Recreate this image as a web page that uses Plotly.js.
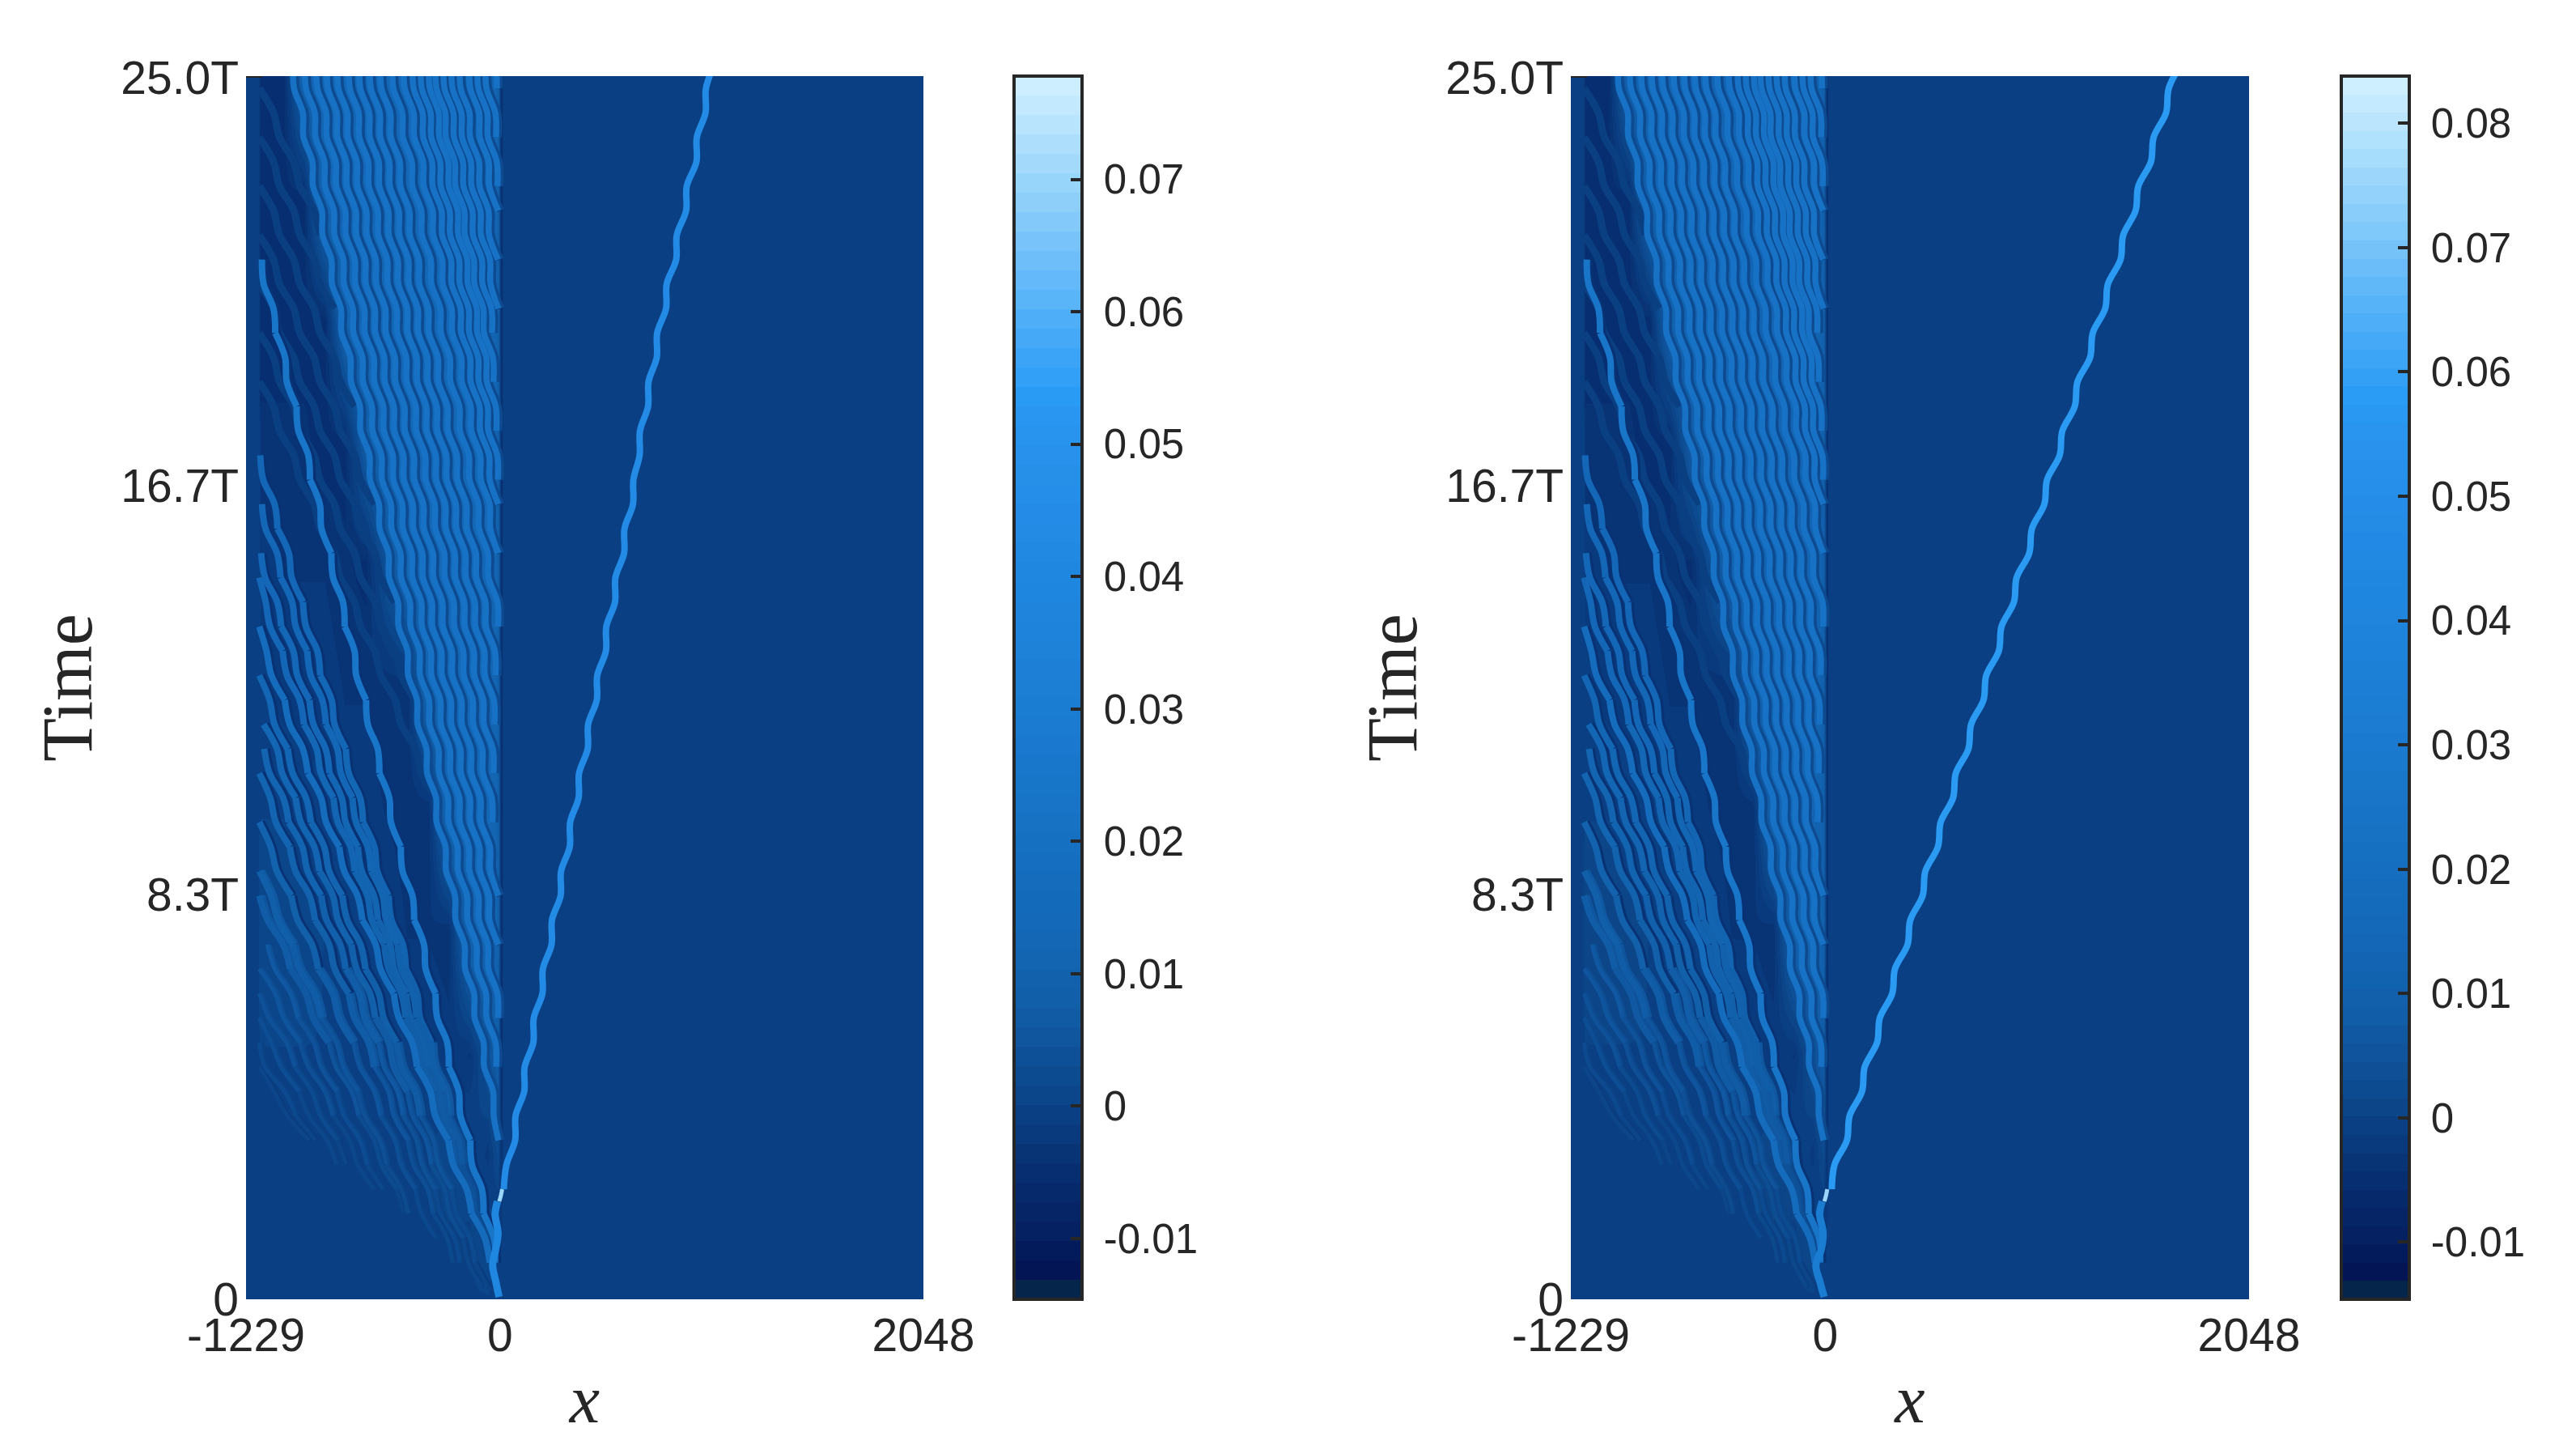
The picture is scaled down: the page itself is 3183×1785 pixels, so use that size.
<!DOCTYPE html>
<html><head><meta charset="utf-8">
<script src="https://cdn.plot.ly/plotly-3.0.1.min.js"></script>
<style>html,body{margin:0;padding:0;background:#fff}#g{width:3183px;height:1785px}</style></head>
<body><div id="g"></div>
<script>
const tTop=[25.25,24.75,24.25,23.75,23.25,22.75,22.25,21.75,21.25,20.75,20.25,19.75,19.25,18.75,18.25,17.75,17.25,16.75,16.25,15.75,15.25,14.75,14.25,13.75,13.25,12.75,12.25,11.75,11.25,10.75,10.25,9.75,9.25,8.75,8.25,7.75,7.25,6.75,6.25,5.75,5.25,4.75,4.25,3.75,3.25,2.75,2.25,1.75,1.25,0.75,0.25];
const xTicks=[-1229,0,2048];
const xTickText=['-1229','0','2048'];
const yTicks=[0,8.27,16.63,24.97];
const yTickText=['0','8.3T','16.7T','25.0T'];
const cbTicksA=[-0.01,0,0.01,0.02,0.03,0.04,0.05,0.06,0.07];
const cbTextA=['-0.01','0','0.01','0.02','0.03','0.04','0.05','0.06','0.07'];
const cbTicksB=[-0.01,0,0.01,0.02,0.03,0.04,0.05,0.06,0.07,0.08];
const cbTextB=['-0.01','0','0.01','0.02','0.03','0.04','0.05','0.06','0.07','0.08'];
// background field (coarse estimate)
const gridX=[-1229,-1170,-1160,-1050,-950,-850,-750,-650,-550,-450,-350,-250,-150,-60,-10,5,20,2048];
const gridT=[0,1.5,3,5,7.5,10,12.5,15,17.5,20,22.5,25];
const gridZ=[
[0,0,0,0,0,0,0,0,0,0,0,0,0,0,0,0,0,0],
[0,0,0,0,0,0,0,0,0,0,0,0,0,.001,-.002,-.002,0,0],
[0,0,0,0,0,0,0,0,0,0,0,.001,.001,-.002,.002,-.004,0,0],
[0,0,0,0,0,0,0,0,0,0,-.001,-.002,-.003,.004,.008,-.005,0,0],
[0,0,.001,.001,.001,0,0,-.001,-.001,-.003,-.003,-.004,.011,.012,.01,-.005,0,0],
[0,0,0,0,-.001,-.001,-.002,-.002,-.003,-.004,-.004,.012,.012,.012,.01,-.005,0,0],
[0,0,-.001,-.002,-.002,-.002,-.003,-.003,-.004,-.004,.012,.012,.012,.012,.01,-.005,0,0],
[0,0,-.002,-.003,-.003,-.003,-.004,-.005,.004,.012,.012,.012,.012,.012,.01,-.005,0,0],
[0,0,-.004,-.004,-.004,-.005,-.005,.008,.012,.012,.012,.012,.012,.012,.01,-.005,0,0],
[0,0,-.005,-.005,-.005,-.005,.011,.012,.012,.012,.012,.012,.012,.012,.01,-.005,0,0],
[0,0,-.005,-.005,-.005,.012,.012,.012,.012,.012,.012,.012,.012,.012,.01,-.005,0,0],
[0,0,-.005,-.005,.011,.012,.012,.012,.012,.012,.012,.012,.012,.012,.01,-.005,0,0]];
// bright ridge of each panel, above the collision point
const mainA=[1038,996,994,952,950,903,900,855,852,806,803,760,758,718,716,677,675,645,643,602,600,558,556,514,512,470,468,426,424,382,380,339,337,295,293,251,249,207,205,163,161,119,117,75,73,31,18];
const mainB=[1721,1660,1647,1587,1574,1513,1500,1440,1427,1366,1353,1293,1280,1219,1206,1146,1133,1072,1059,999,986,925,912,852,839,778,765,705,692,631,618,558,545,484,471,411,398,337,324,264,251,191,178,118,105,45,32];
// strand below the collision point
const rootT=[2.0,1.75,1.35,1.0,0.7,0.35,0.05];
const rootA=[-12,-24,-10,-22,-36,-20,-5];
const rootB=[-14,-27,-10,-20,-45,-25,-5];
const rootZ=[.04,.03];
const sparkX=[-4,4,10];
const sparkT=[2.0,2.12,2.25];
// ridges of the band left of x=0; each starts at the top of the plot
const band=[
[-1000,-997,-954,-951,-908,-905,-862,-859,-816,-813,-770,-767,-724,-721,-678,-675,-632,-629,-586,-583,-540,-537,-494,-491,-448,-445,-402,-399,-356,-353,-310,-307,-264,-261,-218,-215,-172,-169,-126,-123,-80,-77,-34,-31,-8],
[-942,-939,-896,-893,-850,-847,-804,-801,-758,-755,-712,-709,-666,-663,-620,-617,-574,-571,-528,-525,-482,-479,-436,-433,-390,-387,-344,-341,-298,-295,-252,-249,-206,-203,-160,-157,-114,-111,-68,-65,-22,-19],
[-887,-884,-841,-838,-795,-792,-749,-746,-703,-700,-657,-654,-611,-608,-565,-562,-519,-516,-473,-470,-427,-424,-381,-378,-335,-332,-289,-286,-243,-240,-197,-194,-151,-148,-105,-102,-59,-56,-13,-10],
[-836,-833,-790,-787,-744,-741,-698,-695,-652,-649,-606,-603,-560,-557,-514,-511,-468,-465,-422,-419,-376,-373,-330,-327,-284,-281,-238,-235,-192,-189,-146,-143,-100,-97,-54,-51,-8],
[-785,-782,-739,-736,-693,-690,-647,-644,-601,-598,-555,-552,-509,-506,-463,-460,-417,-414,-371,-368,-325,-322,-279,-276,-233,-230,-187,-184,-141,-138,-95,-92,-49,-46,-8],
[-730,-727,-684,-681,-638,-635,-592,-589,-546,-543,-500,-497,-454,-451,-408,-405,-362,-359,-316,-313,-270,-267,-224,-221,-178,-175,-132,-129,-86,-83,-40,-37],
[-679,-676,-633,-630,-587,-584,-541,-538,-495,-492,-449,-446,-403,-400,-357,-354,-311,-308,-265,-262,-219,-216,-173,-170,-127,-124,-81,-78,-35,-32],
[-628,-625,-582,-579,-536,-533,-490,-487,-444,-441,-398,-395,-352,-349,-306,-303,-260,-257,-214,-211,-168,-165,-122,-119,-76,-73,-30,-27],
[-577,-574,-531,-528,-485,-482,-439,-436,-393,-390,-347,-344,-301,-298,-255,-252,-209,-206,-163,-160,-117,-114,-71,-68,-25,-22],
[-519,-516,-473,-470,-427,-424,-381,-378,-335,-332,-289,-286,-243,-240,-197,-194,-151,-148,-105,-102,-59,-56,-13,-10],
[-464,-461,-418,-415,-372,-369,-326,-323,-280,-277,-234,-231,-188,-185,-142,-139,-96,-93,-50,-47,-8],
[-421,-418,-375,-372,-329,-326,-283,-280,-237,-234,-191,-188,-145,-142,-99,-96,-53,-50,-8],
[-382,-379,-336,-333,-290,-287,-244,-241,-198,-195,-152,-149,-106,-103,-60,-57,-14,-11],
[-343,-340,-297,-294,-251,-248,-205,-202,-159,-156,-113,-110,-67,-64,-21,-18],
[-311,-308,-265,-262,-219,-216,-173,-170,-127,-124,-81,-78,-35,-32],
[-272,-269,-226,-223,-180,-177,-134,-131,-88,-85,-42,-39],
[-233,-230,-187,-184,-141,-138,-95,-92,-49,-46,-8],
[-194,-191,-148,-145,-102,-99,-56,-53,-10],
[-147,-144,-101,-98,-55,-52,-9],
[-108,-105,-62,-59,-16,-13],
[-69,-66,-23,-20],
[-18,-15]];
// ridges running out to the left: first sample time, brightness, x positions
const fanStart=[21.25,17.25,16.25,15.25,14.75,13.75,12.75,11.75,11.25,10.75,9.75,8.75,8.25,7.25,6.75,6.25,5.75,5.25,4.75];
const fanZ=[.024,.016,.013,.013,.013,.017,.012,.012,.011,.011,.010,.008,.007,.006,.005,.004,.003,.002,.0015];
const fan=[
[-1152,-1144,-1096,-1088,-1040,-1032,-984,-976,-928,-920,-872,-864,-816,-808,-760,-752,-704,-696,-648,-640,-592,-584,-536,-528,-480,-472,-424,-416,-368,-360,-312,-304,-256,-248,-200,-192,-144,-136,-88,-80,-32,-24],
[-1160,-1146,-1091,-1077,-1022,-1008,-953,-939,-884,-870,-815,-801,-746,-732,-677,-663,-608,-594,-539,-525,-470,-456,-401,-387,-332,-318,-263,-249,-194,-180,-125,-111,-56,-42],
[-1152,-1135,-1079,-1062,-1006,-989,-933,-916,-860,-843,-787,-770,-714,-697,-641,-624,-568,-551,-495,-478,-422,-405,-349,-332,-276,-259,-203,-186,-130,-113,-57,-40],
[-1156,-1137,-1078,-1059,-1000,-981,-922,-903,-844,-825,-766,-747,-688,-669,-610,-591,-532,-513,-454,-435,-376,-357,-298,-279,-220,-201,-142,-123,-64,-45],
[-1165,-1134,-1113,-1052,-1031,-970,-949,-888,-867,-806,-785,-724,-703,-642,-621,-560,-539,-478,-457,-396,-375,-314,-293,-232,-211,-150,-129,-68,-47],
[-1165,-1130,-1106,-1042,-1018,-954,-930,-866,-842,-778,-754,-690,-666,-602,-578,-514,-490,-426,-402,-338,-314,-250,-226,-162,-138,-74,-50],
[-1165,-1115,-1091,-1027,-1003,-939,-915,-851,-827,-763,-739,-675,-651,-587,-563,-499,-475,-411,-387,-323,-299,-235,-211,-147,-123,-59],
[-1144,-1079,-1054,-989,-964,-899,-874,-809,-784,-719,-694,-629,-604,-539,-514,-449,-424,-359,-334,-269,-244,-179,-154,-89],
[-1141,-1115,-1049,-1023,-957,-931,-865,-839,-773,-747,-681,-655,-589,-563,-497,-471,-405,-379,-313,-287,-221,-195],
[-1165,-1112,-1085,-1017,-990,-922,-895,-827,-800,-732,-705,-637,-610,-542,-515,-447,-420,-352,-325,-257,-230],
[-1165,-1110,-1080,-1010,-980,-910,-880,-810,-780,-710,-680,-610,-580,-510,-480,-410,-380,-310],
[-1165,-1108,-1075,-1003,-970,-898,-865,-793,-760,-688,-655,-583,-550,-478,-445],
[-1165,-1125,-1050,-1015,-940,-905,-830,-795,-720,-685,-610,-575,-500,-465],
[-1127,-1091,-1015,-979,-903,-867,-791,-755,-679,-643,-567],
[-1165,-1089,-1049,-969,-929,-849,-809,-729,-689,-609],
[-1165,-1119,-1036,-994,-912,-869,-787,-744],
[-1165,-1108,-1060,-973,-925,-838,-790],
[-1165,-1138,-1043,-988,-893],
[-1165,-1095,-1030,-925]];
// how bright a ridge looks against its height above the lower edge of the fan
const envelopeSpeed=280;
const fadeS=[0,1,3,5,8];
const fadeZ=[.0005,.003,.007,.010,.013];
// faint stripes inside the dark band
const stripeStart=[24.75,23.75,22.75,21.75,20.75,19.75,18.75];
const stripeLen=[7,8,10,12,14,16,18];
const stripeX=[-1165,-1096,-1067,-998,-969,-900,-871,-802,-773,-704,-675,-606,-577,-508,-479,-410,-381,-312];

const anchors=[[-.0146,'#021250'],[-.0132,'#021250'],[-.01,'#051f5f'],[-.005,'#072e70'],[0,'#0b4386'],[.007,'#115ca6'],[.012,'#1366b4'],[.02,'#1670c2'],[.03,'#1b7dd2'],[.04,'#2087e0'],[.05,'#2892ec'],[.054,'#2a9cf5'],[.06,'#52b0f8'],[.07,'#9ad6fb'],[.0778,'#d2f1ff']];
function hex(c){return [1,3,5].map(i=>parseInt(c.substr(i,2),16));}
function colorAt(z){
  if(z<=anchors[0][0])return anchors[0][1];
  for(let i=1;i<anchors.length;i++){
    if(z<=anchors[i][0]){
      const a=hex(anchors[i-1][1]),b=hex(anchors[i][1]),f=(z-anchors[i-1][0])/(anchors[i][0]-anchors[i-1][0]);
      return 'rgb('+a.map((v,k)=>Math.round(v+(b[k]-v)*f)).join(',')+')';
    }
  }
  return anchors[anchors.length-1][1];
}
function stepScale(zmin,zmax,stretch){
  const n=Math.round((zmax-zmin)/0.00147),d=(zmax-zmin)/n,out=[];
  for(let i=0;i<n;i++){
    const m=zmin+(i+.5)*d;
    const c=i===0?'#05254b':colorAt(m>0?m/stretch:m);
    out.push([i/n,c],[(i+1)/n,c]);
  }
  return out;
}
function fadeAt(s){
  if(s<=fadeS[0])return fadeZ[0];
  for(let i=1;i<fadeS.length;i++){
    if(s<=fadeS[i])return fadeZ[i-1]+(fadeZ[i]-fadeZ[i-1])*(s-fadeS[i-1])/(fadeS[i]-fadeS[i-1]);
  }
  return fadeZ[fadeZ.length-1];
}
const FONT='"Liberation Sans", Arial, sans-serif', INK='#262626';
const traces=[];
function line(x,t,z,w,xa,ya){
  traces.push({type:'scatter',mode:'lines',x,y:t,xaxis:xa,yaxis:ya,hoverinfo:'skip',showlegend:false,
    line:{color:colorAt(z),width:w,shape:'spline',smoothing:1}});
}
function timesFrom(start,n){const i=tTop.indexOf(start);return tTop.slice(i,i+n);}
// one ridge of the fan, drawn in pieces so that it dims toward the lower edge
function fanPieces(i,draw){
  const x=fan[i],t=timesFrom(fanStart[i],x.length);
  for(let j=0;j<x.length-1;j+=3){
    const xs=x.slice(j,j+4),ts=t.slice(j,j+4),m=Math.floor(xs.length/2);
    const z=fanZ[i]>=.017?fanZ[i]:Math.min(fanZ[i],fadeAt(ts[m]+xs[m]/envelopeSpeed));
    draw(xs,ts,z);
  }
}
function panel(xa,ya,zmax,stretch,cbx,cbVals,cbText,main,mainZ,root,rz){
  traces.push({type:'heatmap',x:gridX,y:gridT,z:gridZ,xaxis:xa,yaxis:ya,zsmooth:'best',zmin:-.0146,zmax,
    colorscale:stepScale(-.0146,zmax,stretch),hoverinfo:'skip',
    colorbar:{x:cbx,xanchor:'left',xref:'paper',y:180/1785,yanchor:'bottom',yref:'paper',len:1511/1785,lenmode:'fraction',
      thickness:84,thicknessmode:'pixels',xpad:0,ypad:0,outlinewidth:4,outlinecolor:INK,borderwidth:0,
      ticks:'inside',ticklen:16,tickwidth:4,tickcolor:INK,tickmode:'array',tickvals:cbVals,ticktext:cbText.map(s=>'\u00a0'+s),
      tickfont:{family:FONT,size:51,color:INK}}});
  stripeStart.forEach((s,i)=>{const x=stripeX.slice(0,stripeLen[i]);line(x,timesFrom(s,x.length),-.001,9,xa,ya);});
  fan.forEach((_,i)=>fanPieces(i,(xs,ts,z)=>{
    line(xs.map(v=>v+9),ts,z>.008?-.004:Math.max(-.002,z-.002),z>.006?10:6,xa,ya);
  }));
  band.forEach(x=>line(x.map(v=>v+10),timesFrom(25.25,x.length),.002,9.5,xa,ya));
  fan.forEach((_,i)=>fanPieces(i,(xs,ts,z)=>{
    line(xs,ts,z,z>.006?8:5,xa,ya);
  }));
  band.forEach(x=>line(x,timesFrom(25.25,x.length),.021,7.5,xa,ya));
  line(root,rootT,rz,9,xa,ya);
  line(main,tTop,mainZ,8,xa,ya);
  line(sparkX,sparkT,.07,5,xa,ya);
}
panel('x','y',.0778,1,1253/3183,cbTicksA,cbTextA,mainA,.044,rootA,rootZ[0]);
panel('x2','y2',.0838,1.077,2893/3183,cbTicksB,cbTextB,mainB,.053,rootB,rootZ[1]);

function xAxis(dom){return {domain:dom,range:[-1229,2048],tickmode:'array',tickvals:xTicks,ticktext:xTickText,ticks:'',showgrid:false,zeroline:false,showline:false,
  tickfont:{family:FONT,size:57,color:INK},ticklabelstandoff:6,automargin:false,
  title:{text:'<i>x</i>',font:{family:'"Liberation Serif", serif',size:84,color:INK},standoff:18}};}
function yAxis(anchor){return {domain:[180/1785,1691/1785],range:[0,25],anchor,tickmode:'array',tickvals:yTicks,ticktext:yTickText,ticks:'',showgrid:false,zeroline:false,showline:false,
  tickfont:{family:FONT,size:57,color:INK},ticklabelstandoff:8,automargin:false,
  title:{text:'Time',font:{family:'"Liberation Serif", serif',size:88,color:INK},standoff:6}};}
const layout={width:3183,height:1785,paper_bgcolor:'#fff',plot_bgcolor:'#0b4386',showlegend:false,
  margin:{l:0,r:0,t:0,b:0,pad:0,autoexpand:false},
  xaxis:xAxis([304/3183,1141/3183]),yaxis:yAxis('x'),
  xaxis2:Object.assign(xAxis([1941/3183,2779/3183]),{anchor:'y2'}),yaxis2:yAxis('x2'),
  shapes:[['x','y'],['x2','y2']].map(([a,b])=>({type:'line',xref:a,yref:b,x0:-1229,x1:-1150,y0:25,y1:25,line:{color:INK,width:4}}))
};
layout.xaxis.anchor='y';
Plotly.newPlot('g',traces,layout,{staticPlot:true,displayModeBar:false});
</script></body></html>
